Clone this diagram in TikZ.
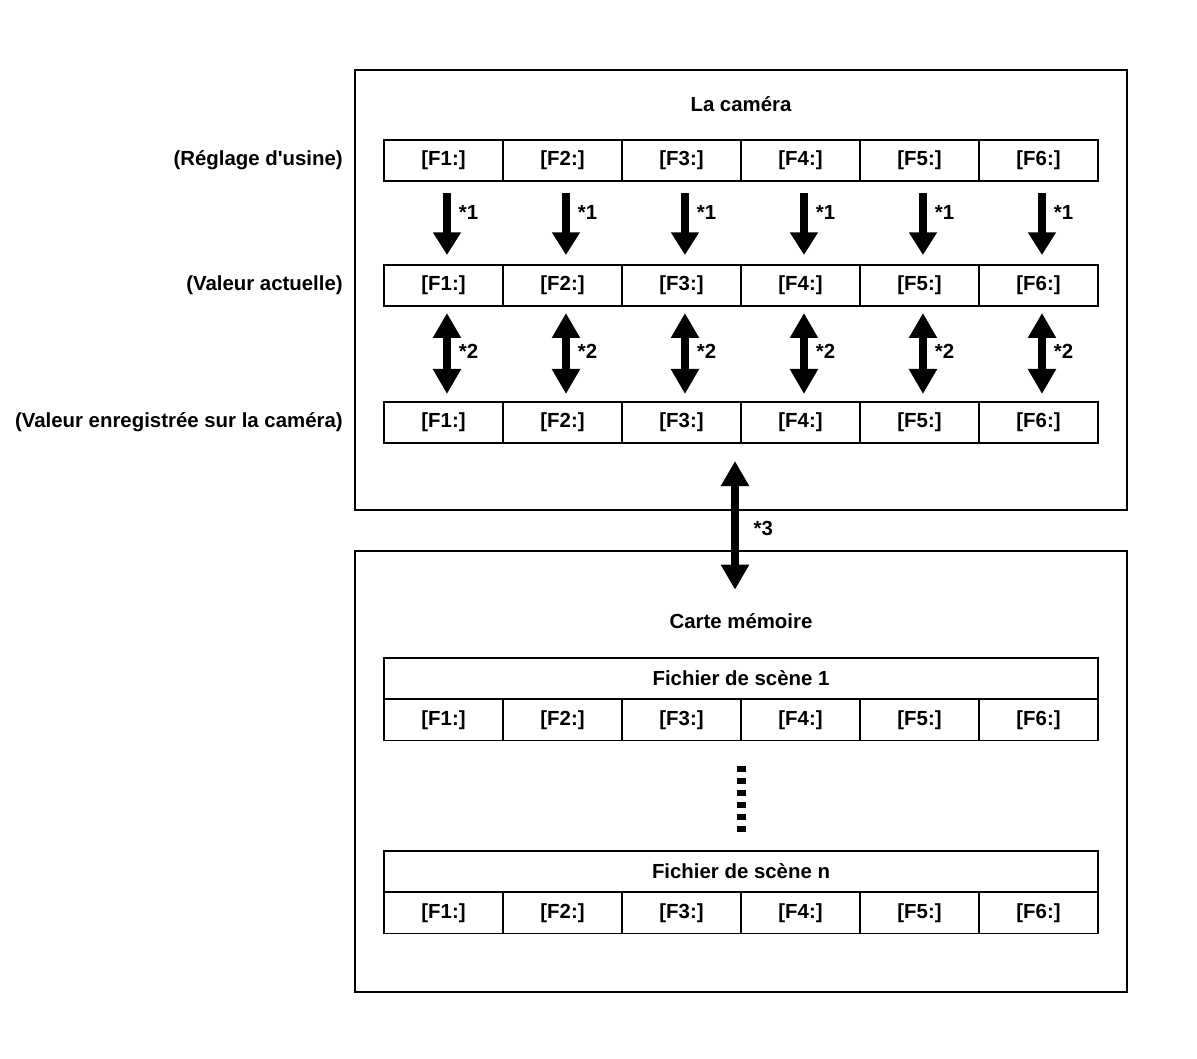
\documentclass[tikz,border=0pt]{standalone}
\usepackage{fontspec}
\setmainfont{Liberation Sans}[Ligatures=TeXOff]
\usetikzlibrary{
  arrows.meta,
  positioning
}
\newcommand{\labfont}{\fontsize{15.3}{18}\selectfont\bfseries}
\tikzset{
  panel/.style={draw,line width=1.5pt,minimum width=579pt,inner sep=0pt},
  cell/.style={draw,line width=0.9pt,minimum width=89.25pt,minimum height=30.75pt,
    inner sep=0pt,outer sep=0pt,font=\labfont},
  scenehead/.style={draw,line width=0.9pt,minimum width=535.5pt,minimum height=30.75pt,
    inner sep=0pt,outer sep=0pt,font=\labfont},
  title/.style={font=\labfont,inner sep=0pt},
  rowlab/.style={font=\labfont,inner sep=0pt},
  starlab/.style={font=\labfont,inner sep=0pt},
  downflow/.style={-{Triangle[width=20pt,length=17pt]},line width=6pt},
  bothflow/.style={{Triangle[width=20pt,length=18.75pt]}-{Triangle[width=20pt,length=18.75pt]},
    line width=6pt},
  ellipsis/.style={line width=6.75pt,dash pattern=on 4.5pt off 4.5pt}
}

\begin{document}
\begin{tikzpicture}[x=0.75pt,y=-0.75pt]
  \useasboundingbox (0,0) rectangle (1197,1059);
  % camera side
  \node[panel,minimum height=330pt] (camera) at (741,290) {};
  \node[title] (camtitle) at (741,104) {La caméra};
  \foreach \i in {1,...,6}{
    \node[cell] (usine\i) at ({384+119*\i-59.5},160.5) {[F\i:]};
    \node[cell,below=63pt of usine\i] (actuel\i) {[F\i:]};
    \node[cell,below=72pt of actuel\i] (reg\i) {[F\i:]};
    \draw[downflow,shorten <=9pt,shorten >=7.5pt]
      ([xshift=2.6pt]usine\i.south) -- node[starlab,pos=0.37,right=6pt]{*1}
      ([xshift=2.6pt]actuel\i.north);
    \draw[bothflow,shorten <=5.25pt,shorten >=6pt]
      ([xshift=2.6pt]actuel\i.south) -- node[starlab,pos=0.47,right=6pt]{*2}
      ([xshift=2.6pt]reg\i.north);
  }
  \node[rowlab,left=30.75pt of usine1] (lusine) {(Réglage d'usine)};
  \node[rowlab,left=30.75pt of actuel1] (lactuel) {(Valeur actuelle)};
  \node[rowlab,left=30.75pt of reg1] (lreg) {(Valeur enregistrée sur la caméra)};
  % memory card side
  \node[panel,minimum height=330.75pt] (memcard) at (741,771.5) {};
  \node[title] (memtitle) at (741,621) {Carte mémoire};
  \node[scenehead] (sceneA) at (741,678.5) {Fichier de scène 1};
  \node[scenehead] (sceneN) at (741,871.5) {Fichier de scène n};
  \foreach \i in {1,...,6}{
    \node[cell] (fa\i) at ({384+119*\i-59.5},720) {[F\i:]};
    \node[cell] (fn\i) at ({384+119*\i-59.5},913) {[F\i:]};
  }
  \draw[ellipsis,shorten <=18.75pt,shorten >=14.25pt] (fa4.south west) -- (sceneN.north);
  \draw[bothflow,shorten <=13.5pt,shorten >=17.6pt]
    ([xshift=-4.5pt]reg4.south west) -- node[starlab,pos=0.5,right=11pt]{*3}
    ([xshift=-4.5pt]memtitle.north);
\end{tikzpicture}
\end{document}
